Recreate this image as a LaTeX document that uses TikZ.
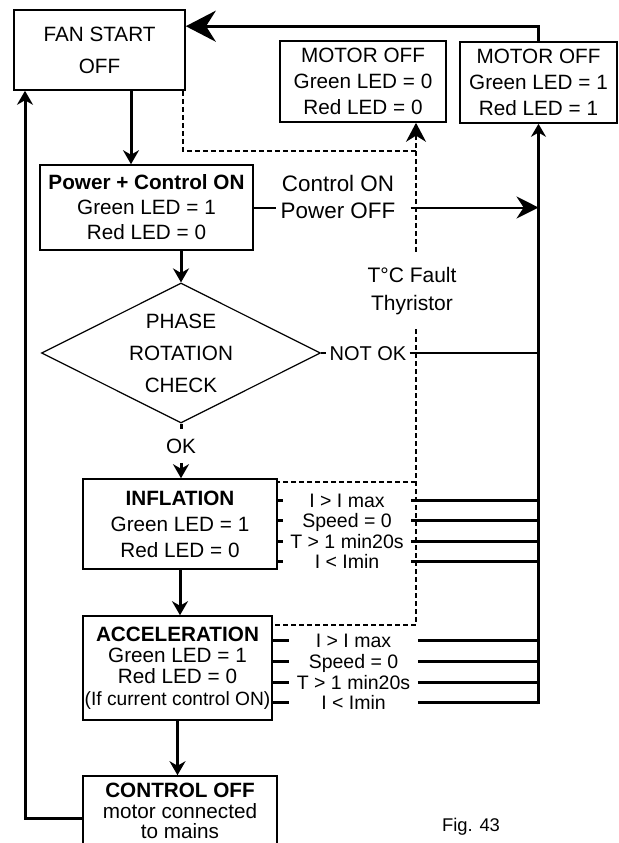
\documentclass[tikz,border=0pt]{standalone}
\usepackage{fontspec}
\setmainfont{Liberation Sans}
\usepackage{tikz}
\usetikzlibrary{arrows.meta,positioning,shapes.geometric,calc}

\begin{document}
\begin{tikzpicture}[
  x=0.5pt, y=-0.5pt,
  box/.style={draw=black, line width=0.8pt, align=center, inner sep=0pt},
  decision/.style={diamond, aspect=2, draw=black, line width=0.6pt, align=center, inner sep=0pt, minimum width=139.5pt, minimum height=70pt, font={\fontsize{10.35}{16}\selectfont}},
  cond/.style={inner sep=0pt, minimum width=64pt, text height=8pt, text depth=1pt, font={\fontsize{9.75}{10}\selectfont}},
  lbl/.style={inner sep=0pt, align=center},
  conn/.style={line width=1.5pt},
  link/.style={line width=1pt},
  arr/.style={-{Stealth[length=7pt,width=8pt]}, line width=1.5pt},
  dashln/.style={line width=1pt, dash pattern=on 2.5pt off 1.5pt}
]
\useasboundingbox (0,0) rectangle (619,843);
\clip (0,0) rectangle (619,843);

% main column
\node[box, minimum width=85.5pt, minimum height=40pt, font={\fontsize{10.35}{16}\selectfont}] (fan) at (99.5,50) {FAN START\\OFF};
\node[box, minimum width=83pt, minimum height=40.5pt, font={\fontsize{10.35}{13}\selectfont}] (motA) at (363,81.5) {MOTOR OFF\\Green LED = 0\\Red LED = 0};
\node[box, minimum width=78.5pt, minimum height=40.5pt, font={\fontsize{10.35}{13}\selectfont}] (motB) at (538.5,82.5) {MOTOR OFF\\Green LED = 1\\Red LED = 1};
\node[box, minimum width=106.5pt, minimum height=42.5pt, font={\fontsize{10.35}{12.5}\selectfont}] (power) at (146.5,207.5) {\textbf{Power + Control ON}\\Green LED = 1\\Red LED = 0};
\node[decision] (phase) at (181,353) {PHASE\\ROTATION\\CHECK};
\node[lbl, minimum height=16.5pt, font={\fontsize{10.35}{12}\selectfont}] (ok) at (181,446) {OK};
\node[box, minimum width=97pt, minimum height=45pt, font={\fontsize{10.35}{13}\selectfont}] (infl) at (180,524) {\textbf{INFLATION}\\Green LED = 1\\Red LED = 0};
\node[box, minimum width=94.5pt, minimum height=52pt, font={\fontsize{10.35}{10.7}\selectfont}] (accel) at (177.5,668) {\textbf{ACCELERATION}\\Green LED = 1\\Red LED = 0\\{\fontsize{9.6}{10.7}\selectfont(If current control ON)}};
\node[box, minimum width=97pt, minimum height=35pt, font={\fontsize{10.35}{10.25}\selectfont}] (ctrl) at (180,811) {\textbf{CONTROL OFF}\\motor connected\\to mains};

% side labels
\node[lbl, font={\fontsize{11.2}{13.5}\selectfont}] (cp) at (338,197) {Control ON\\Power OFF};
\node[lbl, minimum height=38pt, font={\fontsize{10.5}{14}\selectfont}] (tc) at (412,291) {T°C Fault\\Thyristor};
\node[lbl, inner xsep=1.5pt, text height=8pt, text depth=1pt, font={\fontsize{10}{12}\selectfont}] (nok) at (368,353) {NOT OK};
\node[lbl, font={\fontsize{9.2}{11}\selectfont}] (fig) at (471,827) {Fig. 43};

\foreach \txt [count=\i] in {I > I max, Speed = 0, T > 1 min20s, I < Imin} {
  \node[cond] (inf\i) at (347,479.5+20.6*\i) {\txt};
  \node[cond] (acc\i) at (353.5,620+20.7*\i) {\txt};
}

\coordinate (vbar) at (motB.south);
\coordinate (fx) at ($(motA.south)+(53,0)$);
\coordinate (fy) at ($(fx)+(0,28)$);
\coordinate (id) at ($(infl.north east)+(0,4)$);
\coordinate (ad) at ($(accel.north east)+(0,10)$);

% flow
\draw[arr] ($(fan.south)+(31.5,0)$) -- ($(power.north)+(-15.5,0)$);
\draw[arr] (power.south -| phase.north) -- (phase.north);
\draw[conn] (phase.south) -- (ok.north);
\draw[arr] (ok.south) -- (ok.south |- infl.north);
\draw[arr] (infl.south) -- (infl.south |- accel.north);
\draw[arr] (accel.south) -- (accel.south |- ctrl.north);
\draw[arr] ($(ctrl.west)+(0,7)$) -| ($(fan.south)+(-74.5,0)$);
\draw[conn, -{Stealth[length=15pt,width=15.5pt]}] (motB.north) |- ($(fan.north east)+(0,17)$);

% faults to motor off
\draw[link] (power.east) -- ($(cp.west |- power.east)+(-4,0)$);
\draw[link, -{Stealth[length=11pt,width=11pt]}] ($(cp.east |- power.east)+(15,0)$) -- (power.east -| vbar);
\draw[link] (phase.east) -- (nok.west);
\draw[link] (nok.east) -- (nok -| vbar);
\foreach \i in {1,...,4} {
  \draw[conn] (infl.east |- inf\i) -- (inf\i.west);
  \draw[conn] (inf\i.east) -- (inf\i -| vbar);
  \draw[conn] (accel.east |- acc\i) -- (acc\i.west);
  \draw[conn] (acc\i.east) -- (acc\i -| vbar);
}
\draw[conn, -{Stealth[length=6.5pt,width=7.5pt]}] ($(acc4 -| vbar)+(0,1.5)$) -- (motB.south);

% dashed path
\draw[dashln, -{Stealth[length=9.5pt,width=10pt]}] ($(fan.south east)+(-3,0)$) |- (fy) -- (fx);
\draw[dashln] (fy) -- (tc.north -| fx);
\draw[dashln] (tc.south -| fx) -- (ad -| fx) -- (ad);
\draw[dashln] (id -| fx) -- (id);
\end{tikzpicture}
\end{document}
